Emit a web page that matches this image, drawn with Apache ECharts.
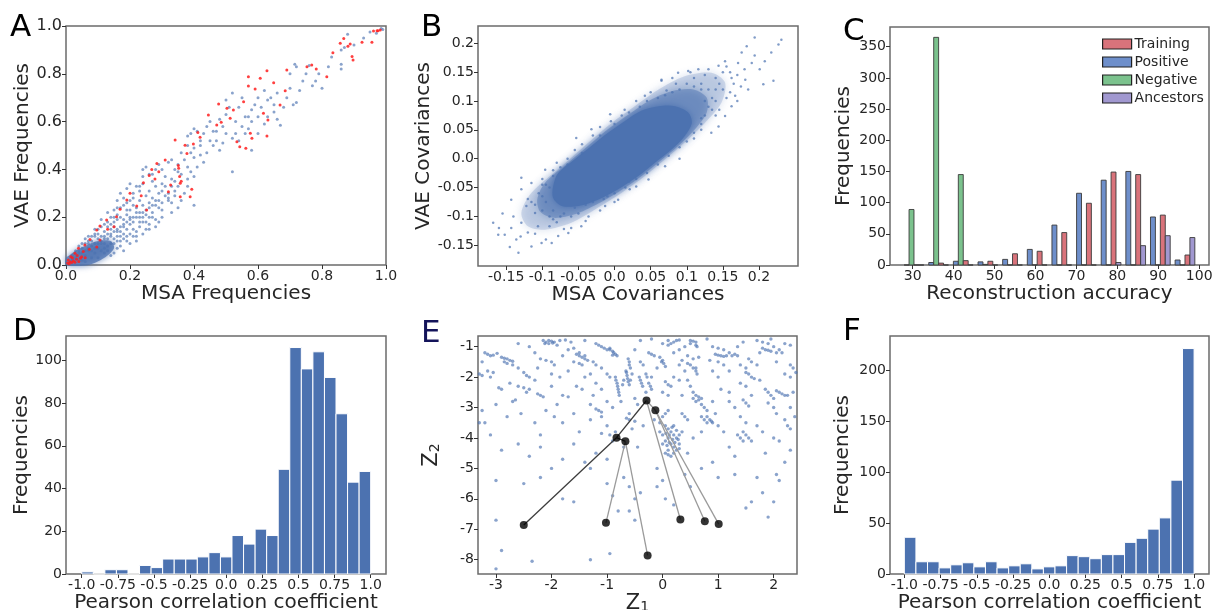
<!DOCTYPE html>
<html>
<head>
<meta charset="utf-8">
<script src="https://cdn.jsdelivr.net/npm/echarts@6/dist/echarts.min.js"></script>
<style>
html,body{margin:0;padding:0;background:#fff;}
#chart{width:1213px;height:610px;}
</style>
</head>
<body>
<div id="chart"></div>
<script>
// ---------------- DATA ----------------
// Panel A: VAE vs MSA frequencies
const aBlue = [
[0.88,0.965],[0.95,0.975],[0.985,0.99],[0.99,0.985],[0.87,0.91],[0.86,0.9],[0.715,0.84],[0.72,0.83],[0.7,0.8],[0.76,0.835],
[0.77,0.75],[0.8,0.74],[0.74,0.77],[0.86,0.84],[0.71,0.67],[0.72,0.68],[0.67,0.585],[0.65,0.64],[0.64,0.7],[0.6,0.7],
[0.58,0.65],[0.55,0.7],[0.52,0.72],[0.5,0.69],[0.51,0.66],[0.53,0.6],[0.57,0.57],[0.58,0.6],[0.56,0.55],[0.49,0.58],
[0.47,0.52],[0.45,0.52],[0.48,0.48],[0.58,0.48],[0.52,0.53],[0.52,0.39],[0.45,0.6],[0.44,0.58],[0.6,0.55],[0.62,0.73],
[0.66,0.72],[0.63,0.69],[0.4,0.57],[0.41,0.56],[0.39,0.55],[0.38,0.54],[0.38,0.5],[0.36,0.47],[0.4,0.49],[0.42,0.46],
[0.43,0.43],[0.4,0.45],[0.37,0.44],[0.33,0.44],[0.32,0.43],[0.35,0.42],[0.34,0.4],[0.36,0.38],[0.38,0.36],[0.4,0.37],
[0.41,0.41],[0.35,0.33],[0.37,0.3],[0.36,0.27],[0.4,0.25],[0.34,0.35],[0.31,0.37],[0.3,0.34],[0.3,0.31],[0.28,0.33],
[0.32,0.3],[0.25,0.41],[0.24,0.4],[0.27,0.35],[0.29,0.27],[0.3,0.2],[0.27,0.22],[0.28,0.19],[0.26,0.31],[0.24,0.34],
[0.26,0.26],[0.25,0.29],[0.23,0.31],[0.22,0.33],[0.2,0.34],[0.19,0.32],[0.21,0.28],[0.23,0.27],[0.22,0.24],[0.24,0.22],
[0.2,0.23],[0.19,0.26],[0.18,0.28],[0.17,0.3],[0.16,0.27],[0.17,0.24],[0.19,0.21],[0.21,0.2],[0.23,0.18],[0.2,0.17],
[0.18,0.19],[0.16,0.21],[0.15,0.23],[0.14,0.2],[0.13,0.22],[0.15,0.18],[0.17,0.16],[0.19,0.15],[0.22,0.14],[0.25,0.15],
[0.21,0.12],[0.18,0.13],[0.16,0.14],[0.14,0.15],[0.12,0.17],[0.11,0.19],[0.13,0.13],[0.15,0.11],[0.17,0.1],[0.2,0.09],
[0.12,0.11],[0.1,0.13],[0.09,0.15],[0.11,0.09],[0.13,0.08],[0.16,0.07],[0.1,0.07],[0.08,0.1],[0.07,0.12],[0.06,0.09],
[0.09,0.05],[0.12,0.05],[0.07,0.06],[0.05,0.07],[0.04,0.05],[0.06,0.04],[0.08,0.03],[0.1,0.03],[0.03,0.03],[0.05,0.02],
[0.02,0.04],[0.03,0.06],[0.04,0.08],[0.02,0.02],[0.06,0.015],[0.14,0.04],[0.18,0.06],[0.22,0.1],[0.26,0.2],[0.27,0.28],
[0.14,0.17],[0.16,0.19],[0.18,0.17],[0.2,0.2],[0.22,0.22],[0.24,0.25],[0.21,0.25],[0.19,0.23],[0.17,0.2],[0.15,0.16],
[0.13,0.16],[0.12,0.14],[0.11,0.12],[0.1,0.11],[0.09,0.12],[0.08,0.08],[0.07,0.09],[0.12,0.09],[0.14,0.12],[0.16,0.12],
[0.18,0.11],[0.15,0.09],[0.11,0.06],[0.13,0.06],[0.09,0.09],[0.28,0.25],[0.29,0.3],[0.31,0.33],[0.33,0.36],[0.35,0.39],
[0.3,0.4],[0.29,0.42],[0.27,0.38],[0.32,0.28],[0.34,0.31],[0.38,0.41],[0.39,0.47],[0.42,0.52],[0.44,0.47],[0.46,0.56],
[0.48,0.61],[0.5,0.63],[0.54,0.66],[0.56,0.62],[0.55,0.58],[0.53,0.55],[0.5,0.55],[0.6,0.62],[0.68,0.66],[0.7,0.74],
[0.79,0.8],[0.82,0.83],[0.66,0.61],[0.62,0.59],[0.3,0.23],[0.33,0.26],[0.26,0.17],[0.23,0.2],[0.25,0.23],[0.2,0.13],
[0.05,0.05],[0.06,0.06],[0.07,0.07],[0.08,0.06],[0.09,0.07],[0.1,0.09],[0.11,0.1],[0.12,0.12],[0.13,0.11],[0.14,0.13],
[0.15,0.14],[0.16,0.15],[0.17,0.14],[0.18,0.16],[0.19,0.18],[0.2,0.19],[0.21,0.18],[0.22,0.2],[0.23,0.22],[0.24,0.2],
[0.25,0.21],[0.26,0.24],[0.27,0.25],[0.28,0.27],[0.29,0.24],[0.3,0.26],[0.31,0.29],[0.32,0.27],[0.33,0.33],[0.34,0.29],
[0.12,0.07],[0.14,0.09],[0.16,0.1],[0.17,0.12],[0.19,0.12],[0.21,0.15],[0.23,0.16],[0.24,0.18],[0.25,0.18],[0.27,0.2],
[0.1,0.15],[0.11,0.16],[0.13,0.18],[0.15,0.2],[0.16,0.24],[0.18,0.25],[0.2,0.27],[0.21,0.3],[0.23,0.33],[0.24,0.37],
[0.26,0.38],[0.28,0.4],[0.08,0.12],[0.09,0.13],[0.07,0.1],[0.06,0.11],[0.05,0.09],[0.04,0.06],[0.03,0.045],[0.02,0.025],
[0.15,0.05],[0.17,0.08],[0.19,0.1],[0.22,0.12],[0.24,0.13],[0.26,0.15],[0.28,0.16],[0.29,0.18],[0.33,0.22],[0.35,0.24],
[0.38,0.33],[0.39,0.39],[0.42,0.5],[0.43,0.55],[0.46,0.5],[0.47,0.56],[0.49,0.51],[0.54,0.52],[0.57,0.62],[0.59,0.67],
[0.61,0.66],[0.63,0.62],[0.65,0.67],[0.69,0.7],[0.73,0.73],[0.75,0.8],[0.78,0.77],[0.83,0.87],[0.86,0.82],[0.9,0.92],
[0.93,0.95],[0.97,0.97]
];
const aRed = [
[0.975,0.98],[0.972,0.98],[0.982,0.983],[0.961,0.979],[0.868,0.948],[0.857,0.928],[0.888,0.925],[0.894,0.872],[0.897,0.858],
[0.925,0.932],[0.956,0.932],[0.834,0.888],[0.881,0.915],[0.768,0.837],[0.753,0.83],[0.782,0.82],[0.815,0.788],[0.69,0.816],
[0.628,0.813],[0.607,0.781],[0.57,0.788],[0.591,0.736],[0.57,0.749],[0.649,0.763],[0.685,0.729],[0.669,0.669],[0.555,0.683],
[0.523,0.649],[0.503,0.656],[0.477,0.674],[0.445,0.628],[0.471,0.586],[0.485,0.597],[0.513,0.614],[0.576,0.551],[0.581,0.53],
[0.534,0.516],[0.562,0.488],[0.543,0.495],[0.628,0.54],[0.617,0.635],[0.631,0.607],[0.412,0.554],[0.419,0.534],[0.398,0.506],
[0.372,0.501],[0.341,0.523],[0.378,0.467],[0.351,0.416],[0.357,0.342],[0.357,0.286],[0.388,0.286],[0.393,0.317],[0.327,0.335],
[0.32,0.307],[0.31,0.439],[0.284,0.425],[0.268,0.4],[0.26,0.374],[0.242,0.344],[0.278,0.36],[0.252,0.23],[0.221,0.247],
[0.19,0.272],[0.169,0.233],[0.158,0.202],[0.127,0.188],[0.106,0.163],[0.096,0.146],[0.075,0.107],[0.059,0.084],[0.039,0.07],
[0.028,0.049],[0.015,0.035],[0.007,0.021],[0.013,0.014],[0.023,0.017],[0.033,0.024],[0.049,0.035],[0.106,0.105],[0.054,0.056],
[0.073,0.066],[0.096,0.075],[0.005,0.008],[0.01,0.005],[0.018,0.01],[0.028,0.012],[0.04,0.015],[0.045,0.028],[0.035,0.04],
[0.352,0.405],[0.355,0.37],[0.36,0.35],[0.29,0.39],[0.2,0.3],[0.235,0.29],[0.13,0.15],[0.15,0.16],[0.02,0.03],[0.06,0.03]
];
const aCore = [[0,0],[0.07,0],[0.12,0.03],[0.15,0.07],[0.14,0.1],[0.1,0.1],[0.06,0.08],[0.03,0.06],[0.01,0.04],[0,0.03]];

// Panel B: VAE vs MSA covariances (dense cloud contours + scattered points)
const bHalo = [[-0.129,-0.094],[-0.115,-0.059],[-0.073,-0.013],[-0.036,0.028],[-0.004,0.062],[0.028,0.091],[0.061,0.12],
[0.097,0.143],[0.134,0.149],[0.153,0.132],[0.148,0.097],[0.125,0.062],[0.097,0.028],[0.07,-0.001],[0.042,-0.03],
[0.01,-0.059],[-0.027,-0.088],[-0.06,-0.111],[-0.096,-0.123],[-0.12,-0.117]];
const bMid = [[-0.107,-0.071],[-0.0965,-0.042],[-0.064,-0.007],[-0.034,0.025],[-0.0065,0.0535],[0.021,0.078],[0.049,0.1015],
[0.079,0.117],[0.109,0.12],[0.1275,0.106],[0.1275,0.0795],[0.111,0.0505],[0.088,0.022],[0.063,-0.004],[0.0375,-0.03],
[0.0075,-0.056],[-0.025,-0.0795],[-0.055,-0.0965],[-0.0845,-0.1025],[-0.1025,-0.0925]];
const bCore = [[-0.085,-0.048],[-0.078,-0.025],[-0.055,-0.001],[-0.032,0.022],[-0.009,0.045],[0.014,0.065],[0.037,0.083],
[0.061,0.091],[0.084,0.091],[0.102,0.08],[0.107,0.062],[0.097,0.039],[0.079,0.016],[0.056,-0.007],[0.033,-0.03],
[0.005,-0.053],[-0.023,-0.071],[-0.05,-0.082],[-0.073,-0.082],[-0.085,-0.068]];
const bPoints = [
[0.194,0.21],[0.231,0.206],[0.227,0.198],[0.183,0.195],[0.217,0.184],[0.194,0.179],[0.208,0.169],[0.19,0.166],[0.171,0.166],
[0.176,0.184],[0.201,0.155],[0.22,0.135],[0.206,0.129],[0.181,0.137],[0.185,0.12],[0.167,0.109],[0.162,0.14],[0.153,0.169],
[0.144,0.161],[0.13,0.155],[0.116,0.155],[0.102,0.152],[0.088,0.149],[0.065,0.135],[0.162,0.091],[0.153,0.074],[0.144,0.056],
[0.134,0.045],[0.07,-0.013],[0.047,-0.036],[0.021,-0.053],[0.005,-0.071],[-0.013,-0.082],[-0.036,-0.1],[-0.046,-0.117],
[-0.064,-0.129],[-0.078,-0.134],[-0.101,-0.146],[-0.115,-0.152],[-0.133,-0.163],[-0.145,-0.153],[-0.161,-0.132],[-0.168,-0.111],
[-0.152,-0.132],[-0.143,-0.12],[-0.129,-0.111],[-0.143,-0.071],[-0.129,-0.053],[-0.129,-0.033],[-0.115,-0.042],[-0.096,-0.019],
[-0.08,-0.007],[-0.053,0.036],[-0.032,0.051],[-0.006,0.077],[0.014,0.085],[0.042,0.109],[0.065,0.137],[-0.087,-0.146],
[-0.136,-0.14],[-0.09,-0.117],[-0.11,-0.094],[-0.106,-0.117],[-0.12,-0.128],[-0.14,-0.1],[-0.122,-0.082],[-0.1,-0.065],
[-0.075,-0.1],[-0.05,-0.095],[0.16,0.115],[0.17,0.1],[0.175,0.125],[0.14,0.12],[0.12,0.13],[0.15,0.15],[0.11,0.14],[0.125,0.1],
[0.135,0.085],[0.085,0.13],[0.072,0.118],[0.02,-0.04],[-0.01,-0.065],[0.03,-0.048],[0.09,0.0],[0.11,0.035],[0.12,0.05],
[-0.155,-0.095],[-0.16,-0.12],[-0.13,-0.135],[-0.11,-0.13],[-0.095,-0.14],[-0.07,-0.122],[-0.085,-0.105],[-0.06,-0.12],
[-0.04,-0.108],[-0.02,-0.09],[0.0,-0.075],[-0.115,-0.075],[-0.1,-0.045],[-0.085,-0.03],[-0.065,-0.01],[-0.045,0.01],[-0.02,0.04],
[0.0,0.06],[0.03,0.1],[0.05,0.115],[0.08,0.14],[0.105,0.15],[0.125,0.145],[0.145,0.13],[0.155,0.105],[0.14,0.075],[0.12,0.07],
[-0.12,-0.07],[-0.11,-0.08],[-0.1,-0.09],[-0.09,-0.1],[-0.08,-0.11],[-0.095,-0.075],[-0.105,-0.06],[-0.09,-0.05],[-0.1,-0.035],
[-0.085,-0.09],[-0.07,-0.095],[-0.06,-0.1],[-0.055,-0.085],[-0.04,-0.08],[-0.03,-0.075],[-0.015,-0.07],[0.0,-0.06],[0.015,-0.05],
[0.03,-0.035],[0.045,-0.025],[0.06,-0.01],[0.075,0.005],[0.09,0.02],[0.1,0.03],[0.11,0.045],[0.12,0.06],[0.125,0.075],[0.13,0.09],
[0.135,0.105],[0.13,0.12],[0.12,0.12],[0.11,0.125],[0.1,0.13],[0.09,0.12],[0.08,0.115],[0.07,0.11],[0.06,0.105],[0.045,0.1],
[0.035,0.09],[0.02,0.08],[0.01,0.075],[-0.005,0.065],[-0.02,0.055],[-0.03,0.04],[-0.045,0.025],[-0.055,0.015],[-0.065,0.0],
[-0.075,-0.015],[-0.085,-0.02],[-0.095,-0.045],[0.14,0.1],[0.145,0.085],[0.15,0.12],[0.165,0.13],[0.16,0.15],[0.14,0.14],
[0.17,0.145],[0.18,0.155],[0.155,0.16]
];

// Panel C: reconstruction accuracy histograms (bins shared by all groups)
const cBinEdges = [27.3,33.32,39.34,45.36,51.38,57.4,63.42,69.44,75.46,81.48,87.5,93.52,99.54];
const cPositive  = [0,4,6,5,9,25,64,115,136,150,77,8];
const cNegative  = [89,365,145,1,0,0,0,0,0,0,0,0];
const cTraining  = [0,3,7,6,18,22,52,99,149,145,80,16];
const cAncestors = [0,0,0,0,0,0,0,0,4,31,47,44];
const cLegendOrder = ['Training','Positive','Negative','Ancestors'];

// Panels D and F: Pearson correlation histograms
const hEdges = [-1.0,-0.92,-0.84,-0.76,-0.68,-0.6,-0.52,-0.44,-0.36,-0.28,-0.2,-0.12,-0.04,0.04,0.12,0.2,0.28,0.36,0.44,0.52,0.6,0.68,0.76,0.84,0.92,1.0];
const dCounts = [1,0,2,2,0,4,3,7,7,7,8,10,8,18,14,21,18,49,106,96,104,92,75,43,48];
const fCounts = [36,12,12,6,9,11,7,12,6,8,10,5,7,8,18,17,15,19,19,31,35,44,55,92,221];

// Panel E: latent space
const eLatent = [
[-3.2,-1.2],[-3.15,-1.25],[-3.1,-1.3],[-3.05,-1.28],[-2.98,-1.22],
[-3.3,-1.9],[-3.25,-1.95],[-3.1,-2.0],[-2.95,-2.35],[-2.9,-2.4],[-3.0,-2.9],[-3.25,-3.1],[-3.3,-3.5],
[-2.85,-1.5],[-2.8,-1.55],[-2.7,-1.6],[-2.6,-1.7],[-2.75,-2.2],[-2.6,-2.3],[-2.5,-2.35],[-2.7,-2.8],[-2.65,-2.75],[-2.45,-2.5],
[-2.4,-2.4],[-2.55,-3.2],[-2.3,-3.5],[-2.2,-3.9],[-2.6,-4.2],[-2.4,-4.6],
[-2.15,-0.8],[-2.1,-0.85],[-2.05,-0.9],[-1.95,-0.85],[-1.9,-0.95],[-1.85,-0.8],
[-2.2,-1.4],[-2.1,-1.45],[-2.0,-1.5],[-1.95,-1.6],[-2.25,-1.7],[-2.0,-1.9],[-1.85,-2.0],
[-1.7,-1.1],[-1.6,-1.05],[-1.5,-1.2],[-1.4,-1.3],[-1.6,-1.5],[-1.5,-1.55],[-1.45,-1.6],[-1.7,-1.8],[-1.55,-2.3],[-1.45,-2.4],
[-1.8,-2.6],[-1.7,-2.65],[-1.9,-2.9],[-1.6,-3.2],[-1.8,-3.5],[-1.5,-3.8],[-1.3,-3.4],
[-1.2,-0.9],[-1.15,-0.95],[-1.1,-1.0],[-1.05,-1.05],[-1.0,-1.1],[-0.95,-1.05],[-1.25,-1.5],[-1.2,-1.6],[-1.1,-1.7],[-1.0,-1.9],
[-0.95,-2.0],[-1.2,-2.2],[-1.1,-2.4],[-1.0,-2.8],[-0.9,-3.0],[-1.1,-3.3],[-1.0,-3.6],
[-0.85,-2.0],[-0.84,-2.1],[-0.82,-2.2],[-0.81,-2.3],[-0.8,-2.4],[-0.79,-2.5],[-0.78,-2.6],[-0.75,-2.8],[-0.72,-2.25],[-0.7,-2.1],
[-0.62,-1.4],[-0.6,-1.6],[-0.58,-1.7],[-0.55,-1.9],[-0.58,-2.1],[-0.6,-1.5],
[-0.4,-1.5],[-0.35,-1.6],[-0.3,-1.9],[-0.25,-2.2],[-0.2,-2.4],[-0.3,-2.5],[-0.25,-1.2],[-0.2,-1.25],[-0.15,-1.3],[-0.28,-2.0],[-0.22,-2.3],
[0.05,-3.6],[0.1,-3.7],[0.15,-3.8],[0.2,-3.9],[0.25,-4.0],[0.3,-3.9],[0.1,-4.0],[0.15,-4.2],[0.2,-4.3],[0.1,-4.4],[0.05,-4.5],
[0.2,-4.5],[0.3,-4.2],[0.35,-3.8],[0.0,-4.2],[0.25,-4.4],[0.15,-4.6],[0.0,-3.3],[0.05,-3.2],[0.1,-3.1],[-0.05,-3.5],
[0.12,-3.9],[0.18,-4.05],[0.22,-4.15],[0.08,-4.25],[0.28,-4.05],[0.17,-3.65],[0.06,-3.85],
[0.2,-1.2],[0.3,-1.1],[0.4,-1.0],[0.5,-0.9],[0.6,-0.85],[0.45,-1.3],[0.55,-1.4],[0.65,-1.35],[0.3,-1.6],[0.4,-1.8],[0.2,-2.0],
[0.3,-2.1],[0.5,-2.3],[0.45,-2.1],
[0.55,-2.7],[0.6,-2.8],[0.65,-2.75],[0.7,-2.9],[0.75,-3.0],[0.8,-3.1],[0.7,-3.3],[0.75,-3.4],[0.8,-3.5],
[0.9,-1.0],[1.0,-1.05],[1.1,-1.1],[1.2,-1.2],[1.3,-1.25],[1.0,-1.5],[1.1,-1.6],[0.9,-1.8],[1.0,-2.0],[1.2,-1.8],
[1.4,-2.2],[1.5,-2.3],[1.55,-1.4],[1.6,-1.5],[1.7,-1.6],[1.5,-1.7],[1.2,-2.8],[1.3,-3.0],[1.4,-3.3],[1.5,-3.5],[1.5,-3.9],
[1.55,-4.0],[1.6,-4.1],[1.45,-3.8],[1.2,-4.3],[1.3,-4.6],[1.0,-3.6],[1.1,-3.8],[0.9,-3.5],
[1.7,-0.8],[1.8,-0.85],[1.9,-0.9],[2.0,-1.0],[2.1,-1.1],[2.15,-1.2],[2.2,-0.9],[1.95,-0.75],
[1.85,-2.4],[1.9,-2.5],[1.95,-2.6],[2.0,-2.7],[1.9,-2.85],[2.0,-3.0],[2.05,-3.2],[2.2,-3.4],[2.3,-3.0],[2.35,-2.5],[2.3,-2.0],
[2.2,-1.9],[2.4,-1.85],[1.7,-3.6],[1.8,-3.8],[2.0,-4.0],[2.1,-4.1],
[-3.0,-6.7],[-2.9,-7.7],[-3.0,-8.3],[-2.35,-8.05],[-1.3,-8.0],[-0.95,-7.8],[-1.6,-6.1],[-1.8,-6.0],[-2.2,-5.3],[-2.5,-5.5],
[-3.0,-5.4],[-1.3,-5.0],[-1.0,-5.5],[-0.9,-5.9],[-0.8,-6.4],[-0.6,-6.4],[-0.5,-6.7],[-0.6,-5.6],[-0.4,-5.8],[-0.5,-6.0],
[-0.1,-5.6],[0.0,-5.4],[0.2,-6.2],[0.05,-6.0],[1.5,-6.3],[1.6,-6.1],[2.0,-6.1],[1.8,-5.8],[1.9,-6.6],[0.5,-5.6],[0.4,-5.2],
[-0.7,-5.3],[-1.0,-4.7],[-1.2,-4.5],[-1.4,-4.8],[-1.8,-4.7],[-2.0,-5.0],[-2.9,-4.4],[-3.2,-3.5],[0.7,-5.0],[0.9,-4.8],
[1.0,-5.3],[1.3,-5.2],[1.7,-5.3],[2.05,-5.2],[2.1,-5.4],[2.2,-4.8],
[-2.6,-0.9],[-2.4,-1.0],[-1.4,-0.8],[-0.4,-0.8],[-0.2,-0.75],[0.0,-0.9],[0.8,-0.75],[1.45,-0.85],[2.3,-0.95],[-3.25,-1.5],
[-0.1,-1.7],[0.0,-2.5],[0.1,-2.6],[-0.15,-3.4],[-0.35,-3.6],[-0.55,-3.7],[-0.7,-4.3],[-0.9,-4.1],[-0.45,-4.3],[-0.1,-5.0],
[0.45,-4.5],[0.55,-4.0],[0.7,-3.8],[0.9,-2.8],[1.05,-2.4],[1.2,-2.5],[1.6,-2.6],[1.75,-2.1],[1.75,-1.2],[1.4,-1.6],[0.6,-1.7],
[-0.2,-2.0],[-0.5,-2.7],[-1.3,-2.9],[-2.1,-3.1],[-2.3,-2.1],[-2.8,-3.3],[-3.1,-3.9],[-2.2,-4.3],[-1.6,-4.2],[-1.95,-3.3],
[-0.6,-3.2],[-1.25,-2.6],[-2.3,-1.2],[-1.8,-1.3],[-1.3,-1.9],[-0.5,-1.1],[0.1,-0.8],[0.35,-1.45],[0.85,-1.45],[1.35,-1.0],
[2.05,-1.5],[2.25,-2.6],[2.38,-3.3],[2.3,-4.4],[1.85,-4.5],[-2.0,-2.3],[-1.4,-2.0],[-0.45,-2.9],[0.35,-2.6],[0.95,-3.2],
[-2.05,-0.8],[-2.0,-0.82],[-1.98,-0.88],[-2.12,-0.9],[-2.9,-1.35],[-2.85,-1.38],[-2.8,-1.4],[-2.75,-1.45],[-2.7,-1.48],
[-1.55,-1.25],[-1.5,-1.3],[-1.45,-1.35],[-1.4,-1.4],[-1.35,-1.45],[-0.95,-1.1],[-0.9,-1.15],[-0.88,-1.2],[-0.85,-1.25],
[-0.82,-1.3],[-0.9,-1.28],[-0.66,-1.8],[-0.65,-1.85],[-0.64,-1.95],[-0.63,-2.05],[-0.62,-2.15],[-0.6,-2.25],
[-0.42,-2.0],[-0.4,-2.1],[-0.38,-2.2],[-0.36,-2.3],[-0.05,-1.35],[0.0,-1.45],[0.02,-1.55],[0.05,-1.65],[-0.02,-1.5],
[0.1,-0.95],[0.15,-0.9],[0.2,-0.85],[0.25,-0.8],[0.3,-0.78],[0.5,-0.8],[0.55,-0.82],[0.6,-0.95],[0.62,-1.0],
[0.95,-1.25],[1.0,-1.28],[1.05,-1.3],[1.1,-1.32],[1.15,-1.3],[1.25,-1.3],[1.35,-1.3],[0.45,-1.55],[0.5,-1.6],[0.55,-1.7],
[0.6,-1.8],[0.62,-1.9],[0.55,-2.5],[0.6,-2.6],[0.65,-2.65],[0.7,-2.7],[0.8,-3.3],[0.85,-3.4],[0.88,-3.45],
[1.5,-1.85],[1.55,-1.9],[1.6,-2.0],[1.65,-2.05],[1.8,-1.05],[1.85,-1.1],[1.9,-1.12],[1.95,-1.15],[2.05,-1.2],
[2.05,-2.45],[2.1,-2.5],[2.15,-2.55],[2.2,-2.6],[1.45,-2.75],[1.5,-2.85],[1.55,-2.95],[-0.65,-3.35],[-0.6,-3.4],[-0.5,-3.45],
[-2.25,-2.55],[-2.2,-2.6],[-2.15,-2.65],[-1.2,-3.05],[-1.15,-3.1],[-1.1,-3.15],[0.05,-2.15],[0.1,-2.25],[0.15,-2.3],
[-1.75,-0.78],[-1.65,-0.85],[-2.5,-1.85],[-2.45,-1.95],[-2.4,-2.0],[-3.15,-1.8],[-3.05,-1.85],[0.35,-3.2],[0.4,-3.3],[0.45,-3.4],
[1.35,-3.9],[1.4,-4.0],[1.45,-4.1],[0.0,-3.9],[0.05,-4.1],[0.12,-4.15],[0.25,-3.75],[0.3,-4.35],[0.1,-4.55],[0.2,-3.6],[-0.05,-3.8],
[-0.85,-3.8],[-0.95,-3.9],[-1.1,-3.85],[2.3,-1.6],[2.35,-1.7],[2.25,-3.6],[2.3,-3.7]
];
const eNodes = [[-0.29,-2.77],[-0.13,-3.09],[-0.83,-3.99],[-0.67,-4.11],[-2.5,-6.86],[-1.02,-6.79],[-0.27,-7.86],[0.32,-6.68],[0.76,-6.74],[1.01,-6.83]];
const eEdges = [[0,2,'dark'],[2,4,'dark'],[2,3,'dark'],[3,5,'light'],[3,6,'light'],[0,7,'light'],[0,1,'light'],[1,8,'light'],[1,9,'light']];

// Tick values and labels
const aTicks = [0,0.2,0.4,0.6,0.8,1.0];
const bTicks = [-0.15,-0.1,-0.05,0,0.05,0.1,0.15,0.2];
const bTickLabels = ['-0.15','-0.1','-0.05','0.0','0.05','0.1','0.15','0.2'];
const cXTicks = [30,40,50,60,70,80,90,100];
const cYTicks = [0,50,100,150,200,250,300,350];
const hTicks = [-1.0,-0.75,-0.5,-0.25,0,0.25,0.5,0.75,1.0];
const hTickLabels = ['-1.0','-0.75','-0.5','-0.25','0.0','0.25','0.5','0.75','1.0'];
const dYTicks = [0,20,40,60,80,100];
const fYTicks = [0,50,100,150,200];
const eXTicks = [-3,-2,-1,0,1,2];
const eYTicks = [-1,-2,-3,-4,-5,-6,-7,-8];

// ---------------- STYLE ----------------
const FONT = "'DejaVu Sans', sans-serif";
const BLUE = '#4c72b0';
const TXT = '#262626';
const cColors = {Training:'#d9737b', Positive:'#6e8fcb', Negative:'#7bc28d', Ancestors:'#a198d0'};

function lab(ticks, labels){
  return function(v){
    for (let i=0;i<ticks.length;i++){ if (Math.abs(ticks[i]-v)<1e-9) return labels[i]; }
    return '';
  };
}
function axis(gridIndex, min, max, ticks, fmt, name, nameGap, extra){
  const o = {
    type:'value', gridIndex, min, max, scale:true,
    axisLine:{show:false, onZero:false},
    axisTick:{show:true, inside:false, length:4, customValues:ticks, lineStyle:{color:'#333', width:1}},
    axisLabel:{show:true, customValues:ticks, formatter:fmt, fontFamily:FONT, fontSize:14, color:TXT, margin:4},
    splitLine:{show:false},
    name, nameLocation:'middle', nameGap,
    nameTextStyle:{fontFamily:FONT, fontSize:20, color:TXT}
  };
  return Object.assign(o, extra||{});
}
const gridStyle = {show:true, borderColor:'#6b6b6b', borderWidth:1.5, backgroundColor:'#fff', containLabel:false, outerBoundsMode:'none'};
const grids = [
  Object.assign({left:66, top:26, width:320, height:239}, gridStyle),
  Object.assign({left:478, top:26, width:320, height:240}, gridStyle),
  Object.assign({left:890, top:27, width:319, height:238}, gridStyle),
  Object.assign({left:66, top:336, width:320, height:238}, gridStyle),
  Object.assign({left:478, top:336, width:319, height:238}, gridStyle),
  Object.assign({left:890, top:336, width:319, height:238}, gridStyle)
];

const fmt1 = v => v.toFixed(1);
const fmtInt = v => String(Math.round(v));
const zRich = {z:{fontSize:21,fontFamily:FONT,color:TXT}, s:{fontSize:14,fontFamily:FONT,color:TXT,padding:[7,0,0,0]}};

const xAxes = [
  axis(0,0,1,aTicks,fmt1,'MSA Frequencies',18),
  axis(1,-0.189,0.254,bTicks,lab(bTicks,bTickLabels),'MSA Covariances',18),
  axis(2,24.45,102.4,cXTicks,fmtInt,'Reconstruction accuracy',18),
  axis(3,-1.109,1.106,hTicks,lab(hTicks,hTickLabels),'Pearson correlation coefficient',16),
  axis(4,-3.324,2.42,eXTicks,fmtInt,'{z|Z}{s|1}',6,{nameTextStyle:{fontFamily:FONT,color:TXT,rich:zRich}}),
  axis(5,-1.099,1.103,hTicks,lab(hTicks,hTickLabels),'Pearson correlation coefficient',16)
];
const yAxes = [
  axis(0,0,1,aTicks,fmt1,'VAE Frequencies',31,{axisLabel:{customValues:aTicks,formatter:fmt1,fontFamily:FONT,fontSize:16,color:TXT,margin:4}}),
  axis(1,-0.186,0.23,bTicks,lab(bTicks,bTickLabels),'VAE Covariances',42),
  axis(2,0,381.6,cYTicks,fmtInt,'Frequencies',36),
  axis(3,0,111.4,dYTicks,fmtInt,'Frequencies',34),
  axis(4,-8.47,-0.65,eYTicks,fmtInt,'{z|Z}{s|2}',36,{nameTextStyle:{fontFamily:FONT,color:TXT,rich:zRich}}),
  axis(5,0,233.3,fYTicks,fmtInt,'Frequencies',37)
];

function polygonSeries(idx, verts, color, opacity, blur){
  return {
    type:'custom', xAxisIndex:idx, yAxisIndex:idx, silent:true, z:1,
    data:[verts[0]],
    renderItem:function(params, api){
      const pts = verts.map(v => api.coord(v));
      return {type:'polygon', shape:{points:pts, smooth:0.3},
        style:{fill:color, opacity:opacity, stroke:null, shadowBlur:blur, shadowColor:color}};
    }
  };
}
function histSeries(idx, counts){
  return {
    type:'custom', xAxisIndex:idx, yAxisIndex:idx, silent:true,
    encode:{x:[0,2], y:1},
    data: counts.map((c,i) => [hEdges[i], c, hEdges[i+1]]),
    renderItem:function(params, api){
      const p0 = api.coord([api.value(0), api.value(1)]);
      const p1 = api.coord([api.value(2), 0]);
      return {type:'rect', shape:{x:p0[0], y:p0[1], width:p1[0]-p0[0], height:p1[1]-p0[1]},
        style:{fill:BLUE, stroke:'#ffffff', lineWidth:1}};
    }
  };
}
const cData = {Positive:cPositive, Negative:cNegative, Training:cTraining, Ancestors:cAncestors};
function cSeries(name, k){
  const vals = cData[name];
  return {
    type:'custom', name, xAxisIndex:2, yAxisIndex:2, silent:true,
    itemStyle:{color:cColors[name]},
    encode:{x:[0,2], y:1},
    data: vals.map((v,i) => {
      const w = cBinEdges[i+1]-cBinEdges[i];
      const left = cBinEdges[i] + w*(0.1+0.2*k);
      return [left, v, left + w*0.2];
    }),
    renderItem:function(params, api){
      const p0 = api.coord([api.value(0), api.value(1)]);
      const p1 = api.coord([api.value(2), 0]);
      return {type:'rect', shape:{x:p0[0], y:p0[1], width:p1[0]-p0[0], height:p1[1]-p0[1]},
        style:{fill:cColors[name], opacity:1, stroke:'#3a3a3a', lineWidth:0.9}};
    }
  };
}

const series = [
  polygonSeries(0, aCore, BLUE, 0.75, 6),
  {type:'scatter', xAxisIndex:0, yAxisIndex:0, data:aBlue, symbolSize:3, silent:true, itemStyle:{color:BLUE, opacity:0.65}},
  {type:'scatter', xAxisIndex:0, yAxisIndex:0, data:aRed, symbolSize:3, silent:true, itemStyle:{color:'#ff1f1f', opacity:0.85}},
  polygonSeries(1, bHalo, BLUE, 0.22, 8),
  polygonSeries(1, bMid, BLUE, 0.45, 8),
  polygonSeries(1, bCore, BLUE, 1, 6),
  {type:'scatter', xAxisIndex:1, yAxisIndex:1, data:bPoints, symbolSize:2.5, silent:true, itemStyle:{color:BLUE, opacity:0.7}},
  cSeries('Positive',0), cSeries('Negative',1), cSeries('Training',2), cSeries('Ancestors',3),
  histSeries(3, dCounts),
  {type:'scatter', xAxisIndex:4, yAxisIndex:4, data:eLatent, symbolSize:3.4, silent:true, itemStyle:{color:BLUE, opacity:0.65}},
  {type:'lines', coordinateSystem:'cartesian2d', xAxisIndex:4, yAxisIndex:4, silent:true, z:3,
    data: eEdges.map(e => ({coords:[eNodes[e[0]], eNodes[e[1]]],
      lineStyle:{color: e[2]==='dark' ? '#3c3c3c' : '#9a9a9a', width:1.3, opacity:1}}))},
  {type:'scatter', xAxisIndex:4, yAxisIndex:4, data:eNodes, symbolSize:8, silent:true, z:4, itemStyle:{color:'#000'}},
  histSeries(5, fCounts)
];

const letters = [['A',10,12,'#000'],['B',421,12,'#000'],['C',843,16,'#000'],['D',13,316,'#000'],['E',421,318,'#14145a'],['F',843,316,'#000']];

const chart = echarts.init(document.getElementById('chart'), null, {renderer:'canvas'});
chart.setOption({
  animation:false,
  backgroundColor:'#fff',
  grid:grids, xAxis:xAxes, yAxis:yAxes, series,
  legend:{
    show:true, orient:'vertical', left:1097, top:32, itemWidth:29, itemHeight:10, itemGap:4,
    icon:'rect',
    textStyle:{fontFamily:FONT, fontSize:14, color:TXT, padding:[0,0,0,-2]},
    data: cLegendOrder.map(n => ({name:n, itemStyle:{color:cColors[n], borderColor:'#222', borderWidth:1.2}})),
    selectedMode:false
  },
  graphic: letters.map(l => ({type:'text', left:l[1], top:l[2], silent:true,
    style:{text:l[0], fontFamily:FONT, fontSize:31, fill:l[3]}}))
});
</script>
</body>
</html>
